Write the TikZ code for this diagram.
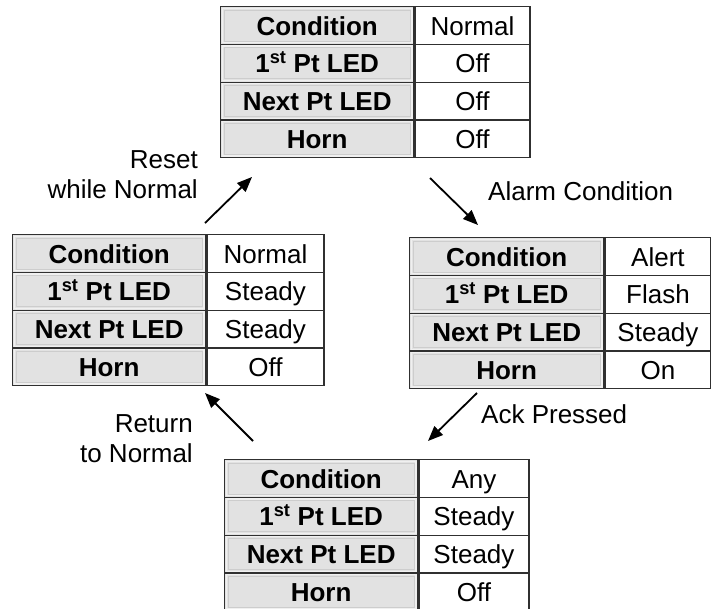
\documentclass[tikz,border=0pt]{standalone}
\usepackage{fontspec}
\setmainfont{Liberation Sans}
\usetikzlibrary{arrows.meta}
\definecolor{keyfill}{HTML}{E2E2E2}
\definecolor{bevelcol}{HTML}{CDCDCD}
\definecolor{bevellight}{HTML}{F0F0F0}
\definecolor{gridcol}{HTML}{303030}
\newcommand\rowh{37.75}
\newcommand\strow[8]{%
  \node[keycell, minimum width=#5pt, anchor=north west] (#1-k#2) at (#3,{#4+#2*\rowh}) {#7};
  \node[valcell, minimum width=#6pt, anchor=north west] (#1-v#2) at (#1-k#2.north east) {#8};
}
\newcommand\statetable[9]{%
  \strow{#1}{0}{#2}{#3}{#4}{#5}{Condition}{#6}
  \strow{#1}{1}{#2}{#3}{#4}{#5}{1\textsuperscript{st} Pt LED}{#7}
  \strow{#1}{2}{#2}{#3}{#4}{#5}{Next Pt LED}{#8}
  \strow{#1}{3}{#2}{#3}{#4}{#5}{Horn}{#9}
}
\tikzset{
  cellbase/.style={draw=gridcol, line width=1.3pt, rectangle, inner sep=0pt,
    minimum height=\rowh pt, text height=20pt, text depth=1pt,
    font=\fontsize{26}{30}\selectfont},
  keycell/.style={cellbase, fill=keyfill, font=\fontsize{26}{30}\selectfont\bfseries,
    path picture={
      \draw[bevellight, line width=1.2pt]
      ([shift={(1.6pt,-1.6pt)}]path picture bounding box.north west) rectangle
      ([shift={(-1.6pt,1.6pt)}]path picture bounding box.south east);
      \draw[bevelcol, line width=1pt]
      ([shift={(3.4pt,-3.4pt)}]path picture bounding box.north west) rectangle
      ([shift={(-3.4pt,3.4pt)}]path picture bounding box.south east);}},
  valcell/.style={cellbase, fill=white},
  trans/.style={line width=1.8pt, -{Triangle[length=15pt,width=12pt]}},
  lbl/.style={inner sep=0pt, font=\fontsize{26}{30}\selectfont},
}
\begin{document}
\begin{tikzpicture}[x=1pt,y=-1pt]
\useasboundingbox (0,0) rectangle (711,608);
\fill[white] (0,0) rectangle (711,608);
% tables
\statetable{top}{220}{6}{193}{115}{Normal}{Off}{Off}{Off}
\statetable{left}{12}{234}{193}{117}{Normal}{Steady}{Steady}{Off}
\statetable{right}{409}{237}{194}{106}{Alert}{Flash}{Steady}{On}
\statetable{bot}{224}{459}{193}{110}{Any}{Steady}{Steady}{Off}
% arrow end points
\coordinate (resetA) at (205,223);
\coordinate (resetB) at (252,177);
\coordinate (alarmA) at (430,178);
\coordinate (alarmB) at (478,225);
\coordinate (ackA) at (477,393);
\coordinate (ackB) at (428,441);
\coordinate (retA) at (253,441);
\coordinate (retB) at (205,393);
\draw[trans] (resetA) -- (resetB);
\draw[trans] (alarmA) -- (alarmB);
\draw[trans] (ackA) -- (ackB);
\draw[trans] (retA) -- (retB);
% labels
\node[lbl, anchor=base east] (reset1) at (198,168) {Reset};
\node[lbl, anchor=base east] (reset2) at (198,198) {while Normal};
\node[lbl, anchor=base west] (alarm) at (488,200) {Alarm Condition};
\node[lbl, anchor=base west] (ack) at (481,423) {Ack Pressed};
\node[lbl, anchor=base east] (ret1) at (193,432) {Return};
\node[lbl, anchor=base east] (ret2) at (193,462) {to Normal};
\end{tikzpicture}
\end{document}
